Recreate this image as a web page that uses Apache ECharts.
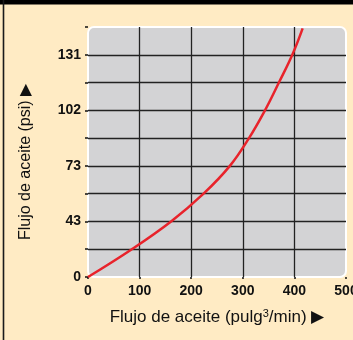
<!DOCTYPE html>
<html><head><meta charset="utf-8">
<script src="https://cdn.jsdelivr.net/npm/echarts@6/dist/echarts.min.js"></script>
<style>html,body{margin:0;padding:0;background:#FFEBC4;}#c{width:353px;height:340px;}</style>
</head><body><div id="c"></div>
<script>
// Oil flow (pulg^3/min)
const flowX = [0, 85, 161, 224, 275, 312, 343, 370, 396, 416];
// Pressure position in grid steps (each labelled step = psi label below)
const pressureStep = [0, 1, 2, 3, 4, 5, 6, 7, 8, 8.95];
// Y tick labels per grid step (psi)
const yTickLabels = ['0', '', '43', '', '73', '', '102', '', '131', ''];
const xTicks = [0, 100, 200, 300, 400, 500];

const FONT = '"Liberation Sans", Arial, sans-serif';
const chart = echarts.init(document.getElementById('c'), null, {renderer: 'canvas'});
const option = {
  backgroundColor: '#FFEBC4',
  animation: false,
  grid: {left: 88, right: 7, top: 27, bottom: 63, containLabel: false, outerBoundsMode: 'none'},
  xAxis: {
    type: 'value', min: xTicks[0], max: xTicks[xTicks.length - 1], interval: 100,
    axisLine: {show: false},
    axisTick: {show: true, length: 2, lineStyle: {color: '#111', width: 1.5}},
    axisLabel: {margin: 7, fontFamily: FONT, fontWeight: 'bold', fontSize: 14, color: '#111'},
    splitLine: {show: true, showMinLine: false, showMaxLine: false, lineStyle: {color: '#222', width: 1.3}},
    name: 'Flujo de aceite (pulg{sup|3}/min) ▶',
    nameLocation: 'middle', nameGap: 31,
    nameTextStyle: {fontFamily: FONT, fontSize: 17, color: '#111',
      rich: {sup: {fontFamily: FONT, fontSize: 11, color: '#111', padding: [0, 0, 8, 0]}}}
  },
  yAxis: {
    type: 'value', min: 0, max: 9, interval: 1,
    axisLine: {show: false},
    axisTick: {show: true, length: 3, lineStyle: {color: '#111', width: 1.5}},
    axisLabel: {margin: 7, fontFamily: FONT, fontWeight: 'bold', fontSize: 14, color: '#111',
      formatter: v => yTickLabels[Math.round(v)] || ''},
    splitLine: {show: true, showMinLine: false, showMaxLine: false, lineStyle: {color: '#222', width: 1.3}},
    name: 'Flujo de aceite (psi) ▶',
    nameLocation: 'middle', nameGap: 54, nameRotate: 90,
    nameTextStyle: {fontFamily: FONT, fontSize: 16, color: '#111', padding: [0, 20, 0, 0]}
  },
  series: [{
    type: 'line', smooth: 0.4, symbol: 'none',
    data: flowX.map((x, i) => [x, pressureStep[i]]),
    lineStyle: {color: '#E8232B', width: 2.5},
    z: 5
  }]
};
chart.setOption(option);
const rect = chart.getModel().getComponent('grid').coordinateSystem.getRect();
chart.setOption({
  graphic: [
    {type: 'rect', z: -10, shape: {x: rect.x, y: rect.y, width: rect.width, height: rect.height, r: 6},
     style: {fill: '#D3D3D5', stroke: '#FFFFFF', lineWidth: 2}},
    {type: 'rect', z: 10, shape: {x: 0, y: 0, width: 353, height: 4.5}, style: {fill: '#000'}},
    {type: 'rect', z: 10, shape: {x: 2.7, y: 0, width: 1.6, height: 340}, style: {fill: '#1a1a1a'}}
  ]
});
</script></body></html>
